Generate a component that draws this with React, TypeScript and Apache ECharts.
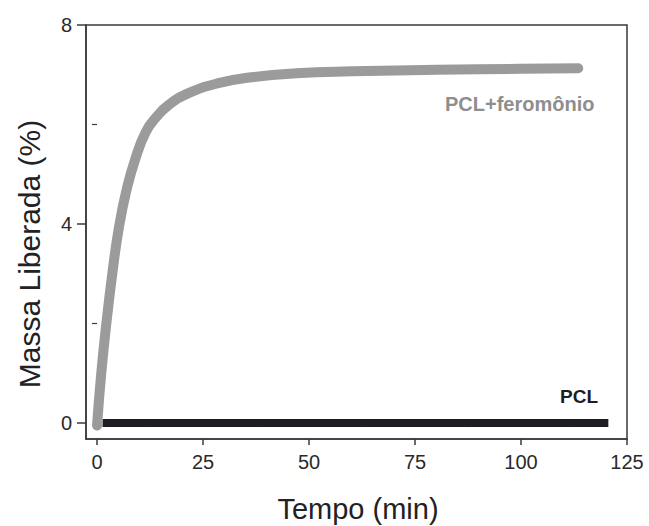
import React, { useEffect, useRef } from "react";
import * as echarts from "echarts";

// Tempo (min) vs Massa Liberada (%)
const pclFeromonioTime = [0, 1, 2.2, 3.6, 5.2, 7, 9, 11.5, 14, 17, 21.6, 28.6, 36.5, 47, 60, 80, 100, 113.5];
const pclFeromonioMass = [-0.05, 1.0, 2.0, 3.0, 3.95, 4.7, 5.3, 5.85, 6.15, 6.4, 6.63, 6.83, 6.95, 7.03, 7.07, 7.1, 7.12, 7.13];

const pclTime = [1.3, 30, 60, 90, 120.6];
const pclMass = [0, 0, 0, 0, 0];

const xMajorTicks = [0, 25, 50, 75, 100, 125];
const xMinorTicks = [12.5, 37.5, 62.5, 87.5, 112.5];
const yMajorTicks = [0, 4, 8];
const yMinorTicks = [2, 6];

const xTitle = "Tempo (min)";
const yTitle = "Massa Liberada (%)";
const seriesNames = ["PCL+feromônio", "PCL"];

const FONT = "'Liberation Sans', Arial, Helvetica, sans-serif";
const AX = "#3a3a3a";

export default function App() {
  const ref = useRef<HTMLDivElement>(null);
  useEffect(() => {
    if (!ref.current) return;
    const chart = echarts.init(ref.current, undefined, { renderer: "svg" });
    const xMin = -2.6, xMax = 125, yMin = -0.32, yMax = 8;
    const option: any = {
      animation: false,
      backgroundColor: "#ffffff",
      grid: {
        left: 86, right: 22, top: 25, bottom: 87,
        show: true, borderColor: AX, borderWidth: 1.5, backgroundColor: "transparent",
      },
      xAxis: [
        {
          type: "value", min: xMin, max: xMax, position: "bottom",
          axisLine: { show: true, onZero: false, lineStyle: { color: AX, width: 1.5 } },
          axisTick: { show: true, inside: false, length: 6, customValues: xMajorTicks, lineStyle: { color: AX, width: 1.5 } },
          axisLabel: { show: true, customValues: xMajorTicks, fontSize: 20, margin: 13, color: "#2a2a2a", fontFamily: FONT },
          splitLine: { show: false },
        },
        {
          type: "value", min: xMin, max: xMax, position: "bottom",
          axisLine: { show: false },
          axisTick: { show: true, inside: false, length: 4, customValues: xMinorTicks, lineStyle: { color: AX, width: 1.2 } },
          axisLabel: { show: false },
          splitLine: { show: false },
        },
      ],
      yAxis: [
        {
          type: "value", min: yMin, max: yMax, position: "left",
          axisLine: { show: true, onZero: false, lineStyle: { color: AX, width: 1.5 } },
          axisTick: { show: true, inside: false, length: 9, customValues: yMajorTicks, lineStyle: { color: AX, width: 1.5 } },
          axisLabel: { show: true, customValues: yMajorTicks, fontSize: 20, margin: 14, color: "#2a2a2a", fontFamily: FONT },
          splitLine: { show: false },
        },
        {
          type: "value", min: yMin, max: yMax, position: "left",
          axisLine: { show: false },
          axisTick: { show: true, inside: false, length: 5, customValues: yMinorTicks, lineStyle: { color: AX, width: 1.2 } },
          axisLabel: { show: false },
          splitLine: { show: false },
        },
      ],
      series: [
        {
          name: seriesNames[1],
          type: "line",
          data: pclTime.map((t, i) => [t, pclMass[i]]),
          showSymbol: false,
          lineStyle: { color: "#1d1d24", width: 8, cap: "butt" },
          z: 2,
        },
        {
          name: seriesNames[0],
          type: "line",
          data: pclFeromonioTime.map((t, i) => [t, pclFeromonioMass[i]]),
          showSymbol: false,
          smooth: 0.5,
          lineStyle: { color: "#9b9b9b", width: 10, cap: "round", join: "round" },
          z: 3,
        },
      ],
      graphic: [
        {
          type: "text", x: 358, y: 509,
          style: { text: xTitle, fontSize: 29, fontFamily: FONT, fill: "#222", textAlign: "center", textVerticalAlign: "middle" },
        },
        {
          type: "text", x: 29, y: 254, rotation: Math.PI / 2,
          style: { text: yTitle, fontSize: 30, fontFamily: FONT, fill: "#222", textAlign: "center", textVerticalAlign: "middle" },
        },
        {
          type: "text", x: 445, y: 104,
          style: { text: seriesNames[0], fontSize: 20, fontWeight: "bold", fontFamily: FONT, fill: "#8e8e8e", textAlign: "left", textVerticalAlign: "middle" },
        },
        {
          type: "text", x: 598, y: 396,
          style: { text: seriesNames[1], fontSize: 19, fontWeight: "bold", fontFamily: FONT, fill: "#1d1d24", textAlign: "right", textVerticalAlign: "middle" },
        },
      ],
    };
    chart.setOption(option);
    return () => chart.dispose();
  }, []);
  return <div ref={ref} style={{ position: "absolute", left: 0, top: 0, width: 649, height: 526 }} />;
}
